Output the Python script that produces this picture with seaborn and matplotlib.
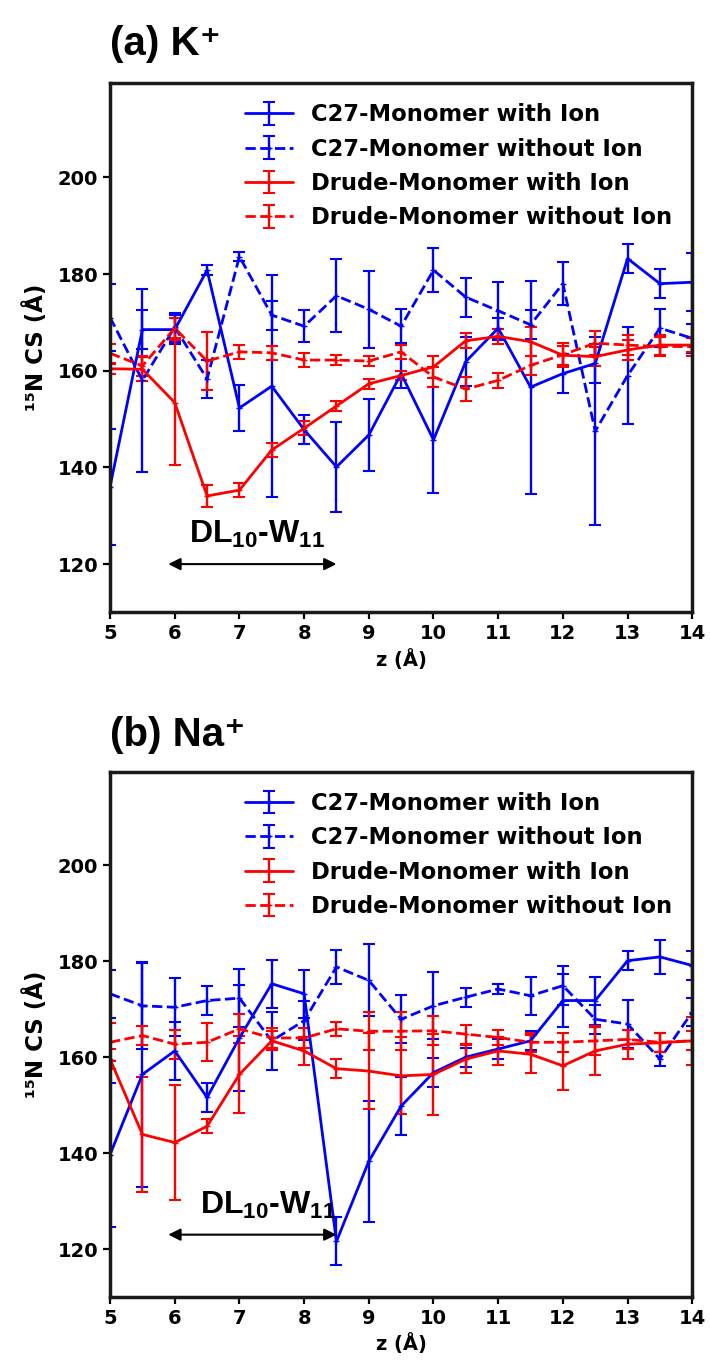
import matplotlib
matplotlib.use('Agg')
import matplotlib.pyplot as plt
import seaborn as sns
import numpy as np

# z positions (Angstrom)
z = [5, 5.5, 6, 6.5, 7, 7.5, 8, 8.5, 9, 9.5, 10, 10.5, 11, 11.5, 12, 12.5, 13, 13.5, 14]

# (a) K+
k_c27_ion = [136, 168.5, 168.5, 180.8, 152.3, 156.8, 147.8, 140.1, 146.7, 159.4,
             145.7, 161.9, 168.8, 156.6, 159.4, 161.5, 183.2, 178, 178.3]
k_c27_ion_err = [12, 4, 3, 1, 4.7, 23, 3, 9.3, 7.5, 3, 11, 5, 2, 22, 4, 4, 3, 3, 6]
k_c27_noion = [171, 158, 169, 158.3, 183.6, 171.5, 169.2, 175.5, 172.7, 169.2,
               180.8, 175.2, 172.4, 169.5, 178, 147.5, 159, 168.8, 166.7]
k_c27_noion_err = [7, 19, 3, 4, 1, 3, 3.3, 7.5, 8, 3.5, 4.5, 4, 6, 3, 4.5, 19.5, 10, 4, 3]
k_drude_ion = [160.4, 160.3, 153.4, 134.1, 135.3, 143.6, 148.1, 152.7, 157.3, 159,
               160.8, 166.2, 167.1, 166, 163.2, 162.9, 164.3, 165.3, 165.3]
k_drude_ion_err = [1, 2.5, 13, 2.3, 1.5, 1.5, 1.5, 1, 1, 1, 2.3, 1.5, 1.5, 3, 2, 2, 2, 2, 1.5]
k_drude_noion = [163.6, 161, 168.8, 162, 163.9, 163.7, 162.2, 162.2, 162, 163.9,
                 158.7, 156.2, 158, 161.1, 163.3, 165.7, 165.3, 165, 165]
k_drude_noion_err = [2, 2, 2, 6, 1.5, 1.5, 1.5, 1, 1, 1.5, 2, 2.5, 1.5, 2, 2.5, 2.5, 2, 2, 2]

# (b) Na+
na_c27_ion = [139.7, 156.4, 161.3, 151.6, 164, 175.3, 173.2, 121.6, 138.3, 149.8,
              156.8, 160, 161.7, 163.4, 171.8, 171.8, 180.1, 180.9, 179.1]
na_c27_ion_err = [15, 23.5, 6, 3, 11, 5, 5, 5, 12.6, 6, 3, 2, 2, 2, 5.5, 5, 2, 3.5, 3]
na_c27_noion = [173.2, 170.7, 170.4, 171.8, 172.3, 163.4, 167.6, 178.8, 176, 167.9,
                170.7, 172.5, 174.2, 172.8, 174.9, 167.9, 166.9, 159.6, 169.4]
na_c27_noion_err = [5, 9, 6, 3, 6, 6, 4, 3.5, 7.5, 5, 7, 2, 1, 4, 4, 3, 5, 1.5, 3]
na_drude_ion = [159.6, 143.9, 142.2, 145.6, 156.4, 163.4, 161.3, 157.6, 157.1, 156.1,
                156.4, 159.6, 161.3, 160.6, 158.2, 161.3, 162.7, 163, 163.4]
na_drude_ion_err = [2, 12, 12, 1.5, 8, 2, 3, 2, 8, 8, 8.5, 3, 3, 4, 5, 5, 3, 2, 2]
na_drude_noion = [163.1, 164.5, 162.7, 163.1, 165.9, 164, 164, 165.9, 165.4, 165.4,
                  165.5, 164.8, 164.1, 163.1, 163.1, 163.4, 163.7, 163.1, 163.4]
na_drude_noion_err = [4, 2, 3, 4, 3, 2, 2, 1.5, 4, 4, 3, 2, 1.5, 2, 2, 3, 2, 2, 5]

labels = ['C27-Monomer with Ion', 'C27-Monomer without Ion',
          'Drude-Monomer with Ion', 'Drude-Monomer without Ion']
colors = ['#0000ff', '#0000ff', '#ff0000', '#ff0000']
styles = ['-', '--', '-', '--']
yticks = [120, 140, 160, 180, 200]
xticks = [5, 6, 7, 8, 9, 10, 11, 12, 13, 14]

sns.set_theme(style='ticks')
plt.rcParams['font.family'] = ['DejaVu Sans']
plt.rcParams['font.weight'] = 'bold'
plt.rcParams['axes.labelweight'] = 'bold'
plt.rcParams['mathtext.default'] = 'regular'
for k in ['text.color', 'axes.labelcolor', 'xtick.color', 'ytick.color']:
    plt.rcParams[k] = 'black'

fig = plt.figure(figsize=(7.1, 13.61), dpi=100)
ax_a = fig.add_axes([0.155, 0.550, 0.82, 0.389])
ax_b = fig.add_axes([0.155, 0.047, 0.82, 0.386])


def draw_panel(ax, series, title, title_y, arrow_y, text_xy):
    for (y, e), lab, c, ls in zip(series, labels, colors, styles):
        eb = ax.errorbar(z, y, yerr=e, color=c, ls=ls, lw=2, capsize=4,
                         capthick=1.5, elinewidth=1.7, marker='+', ms=5,
                         label=lab)
        eb[-1][0].set_linestyle('-')
    ax.set_xlim(5, 14)
    ax.set_ylim(110, 219.5)
    ax.set_xticks(xticks)
    ax.set_yticks(yticks)
    ax.tick_params(axis='both', labelsize=14, length=5, width=1.6, direction='out')
    for lab in ax.get_xticklabels() + ax.get_yticklabels():
        lab.set_fontweight('bold')
    for sp in ax.spines.values():
        sp.set_linewidth(2.5)
        sp.set_color('#1a1a1a')
    ax.set_xlabel('z (Å)', fontsize=14, fontweight='bold', labelpad=4)
    ax.set_ylabel('¹⁵N CS (Å)', fontsize=16.5, fontweight='bold', labelpad=7)
    ax.legend(loc='upper right', frameon=False, handlelength=2.1,
              prop={'size': 16.3, 'weight': 'bold'},
              labelspacing=0.5, borderaxespad=0.5)
    ax.annotate('', xy=(5.9, arrow_y), xytext=(8.5, arrow_y),
                arrowprops=dict(arrowstyle='<|-|>', color='black', lw=1.5,
                                mutation_scale=18, shrinkA=0, shrinkB=0))
    ax.text(text_xy[0], text_xy[1], r'DL$_{10}$-W$_{11}$', ha='center', va='baseline',
            fontsize=23, fontweight='bold', family=['Liberation Sans', 'DejaVu Sans'])
    fig.text(0.155, title_y, title, fontsize=29, fontweight='bold', va='center',
             family=['Liberation Sans', 'DejaVu Sans'])


draw_panel(ax_a,
           [(k_c27_ion, k_c27_ion_err), (k_c27_noion, k_c27_noion_err),
            (k_drude_ion, k_drude_ion_err), (k_drude_noion, k_drude_noion_err)],
           '(a) K⁺', 0.968, 120, (7.28, 124.3))
draw_panel(ax_b,
           [(na_c27_ion, na_c27_ion_err), (na_c27_noion, na_c27_noion_err),
            (na_drude_ion, na_drude_ion_err), (na_drude_noion, na_drude_noion_err)],
           '(b) Na⁺', 0.460, 123, (7.45, 127.3))

fig.savefig('out.png', dpi=100)
